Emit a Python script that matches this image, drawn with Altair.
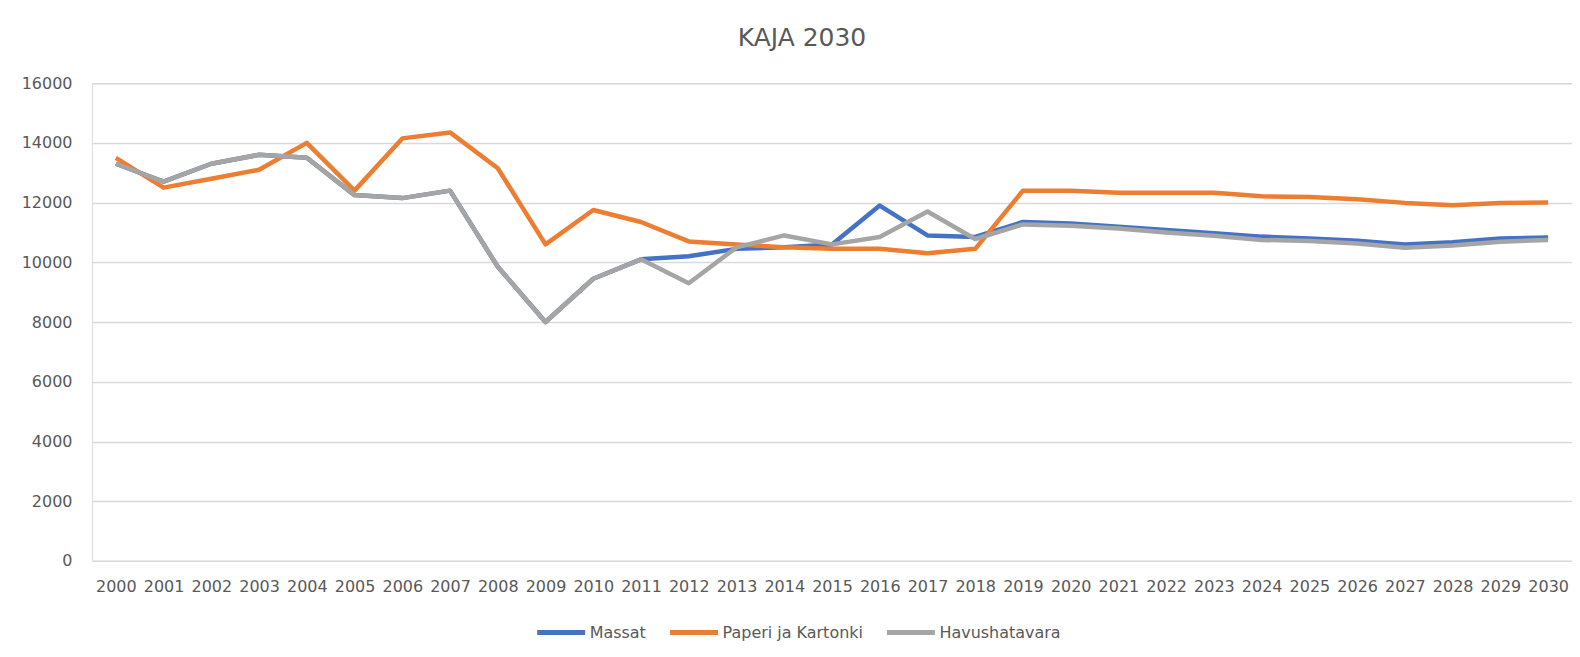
import altair as alt
import pandas as pd

years = [str(y) for y in range(2000, 2031)]

massat = [13300, 12700, 13300, 13600, 13500, 12250, 12150, 12400, 9850, 8000,
          9450, 10100, 10200, 10450, 10500, 10600, 11900, 10900, 10850, 11350,
          11300, 11190, 11080, 10970, 10860, 10800, 10720, 10600, 10670, 10800, 10830]

paperi = [13500, 12500, 12800, 13100, 14000, 12400, 14150, 14350, 13150, 10600,
          11750, 11350, 10700, 10600, 10500, 10450, 10450, 10300, 10450, 12400,
          12400, 12330, 12330, 12330, 12210, 12190, 12110, 11990, 11910, 11990, 12000]

havu = [13300, 12700, 13300, 13600, 13500, 12250, 12150, 12400, 9850, 8000,
        9450, 10100, 9300, 10500, 10900, 10600, 10850, 11700, 10780, 11270,
        11220, 11130, 11000, 10890, 10750, 10710, 10630, 10490, 10560, 10690, 10750]

series_names = ["Massat", "Paperi ja Kartonki", "Havushatavara"]
series_colors = ["#4472C4", "#ED7D31", "#A5A5A5"]
y_ticks = [0, 2000, 4000, 6000, 8000, 10000, 12000, 14000, 16000]

rows = []
for name, vals in zip(series_names, [massat, paperi, havu]):
    for yr, v in zip(years, vals):
        rows.append({"Vuosi": yr, "Sarja": name, "Arvo": v})
df = pd.DataFrame(rows)

FONT = "DejaVu Sans"
LABEL = "#595959"

base = alt.Chart(df).mark_line(strokeWidth=4.5, strokeJoin="round").encode(
    x=alt.X("Vuosi:O", sort=years,
            scale=alt.Scale(type="point", padding=0.5),
            axis=alt.Axis(title=None, labelAngle=0, ticks=False, domain=False,
                          grid=False, labelPadding=18, labelFontSize=16,
                          labelColor=LABEL, labelFont=FONT)),
    y=alt.Y("Arvo:Q", scale=alt.Scale(domain=[0, 16000], nice=False),
            axis=alt.Axis(title=None, values=y_ticks, format="d", ticks=False,
                          domain=False, gridColor="#d9d9d9", gridWidth=1.5,
                          labelPadding=20, labelFontSize=16, labelColor=LABEL,
                          labelFont=FONT)),
    color=alt.Color("Sarja:N",
                    scale=alt.Scale(domain=series_names, range=series_colors),
                    legend=alt.Legend(title=None, orient="none", direction="horizontal",
                                      legendX=443, legendY=523,
                                      symbolType="stroke", symbolSize=2300,
                                      symbolStrokeWidth=5, labelOffset=2,
                                      columnPadding=13, labelFontSize=16,
                                      labelColor=LABEL, labelFont=FONT)),
)

layers = [base.transform_filter(alt.datum.Sarja == n) for n in series_names]

chart = alt.layer(*layers).properties(
    width=1481, height=478,
    title=alt.TitleParams("KAJA 2030", fontSize=25, font=FONT, color=LABEL,
                          fontWeight="normal", anchor="middle", frame="group",
                          baseline="alphabetic", offset=4, dx=-30),
    autosize=alt.AutoSizeParams(type="none"),
    padding={"left": 84, "top": 75, "right": 0, "bottom": 95},
).configure_view(stroke=None).configure(background="white")

chart.save("out.html", embed_options={"renderer": "svg", "actions": False})
